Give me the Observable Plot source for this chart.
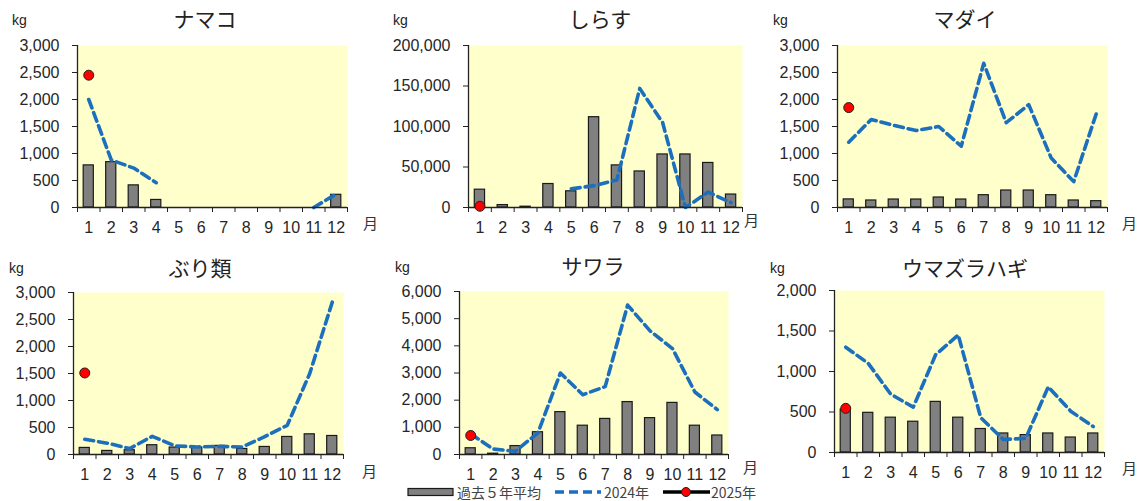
<!DOCTYPE html>
<html>
<head>
<meta charset="utf-8">
<script src="https://cdn.jsdelivr.net/npm/d3@7"></script>
<script src="https://cdn.jsdelivr.net/npm/@observablehq/plot@0.6"></script>
<style>
  html, body { margin: 0; padding: 0; background: #fff; }
  #root { position: relative; width: 1139px; height: 501px; overflow: hidden; font-family: "Liberation Sans", Arial, sans-serif; }
  .abs { position: absolute; white-space: nowrap; line-height: 1; }
  .title { font-family: "Noto Sans CJK JP", sans-serif; font-size: 21px; color: #222; transform: translate(-50%, -50%); }
  .unit { font-size: 14px; color: #222; transform: translateY(-50%); }
  .mon { font-family: "Noto Sans CJK JP", sans-serif; font-size: 15px; color: #333; transform: translateY(-50%); }
  .leg { font-family: "Noto Sans CJK JP", sans-serif; font-size: 14px; color: #444; transform: translateY(-50%); }
</style>
</head>
<body>
<div id="root"></div>
<script>
// ---- data ----
const months = [1, 2, 3, 4, 5, 6, 7, 8, 9, 10, 11, 12];
const titles = ["ナマコ", "しらす", "マダイ", "ぶり類", "サワラ", "ウマズラハギ"];
const legendLabels = ["過去５年平均", "2024年", "2025年"];

// 過去5年平均
const namakoAvg = [780, 840, 410, 140, 0, 0, 0, 0, 0, 0, 0, 235];
const shirasuAvg = [22000, 3000, 1000, 29000, 20000, 111500, 52000, 44500, 65500, 65500, 55000, 16000];
const madaiAvg = [150, 130, 148, 148, 185, 148, 228, 315, 315, 228, 130, 117];
const buriAvg = [122, 66, 79, 172, 129, 129, 159, 103, 140, 325, 374, 343];
const sawaraAvg = [230, 30, 310, 820, 1560, 1060, 1310, 1930, 1340, 1900, 1060, 700];
const umazuraAvg = [530, 490, 430, 380, 625, 430, 290, 235, 215, 235, 185, 235];

// 2024年
const namako2024 = [2000, 880, 730, 460, null, null, null, null, null, null, 0, 250];
const shirasu2024 = [null, null, null, null, 23000, 27000, 34000, 147000, 105000, 0, 19000, 6000];
const madai2024 = [1210, 1630, 1520, 1425, 1500, 1135, 2670, 1570, 1905, 915, 480, 1735];
const buri2024 = [282, 210, 110, 337, 159, 140, 150, 140, 330, 540, 1500, 2820];
const sawara2024 = [760, 200, 120, 800, 3000, 2200, 2500, 5500, 4550, 3900, 2300, 1650];
const umazura2024 = [1300, 1100, 720, 560, 1210, 1450, 430, 160, 175, 810, 510, 320];

// 2025年
const namako2025 = [2450];
const shirasu2025 = [1500];
const madai2025 = [1850];
const buri2025 = [1510];
const sawara2025 = [700];
const umazura2025 = [545];

// y-axis tick labels
const ticks3000 = [0, 500, 1000, 1500, 2000, 2500, 3000];
const ticks200k = [0, 50000, 100000, 150000, 200000];
const ticks6000 = [0, 1000, 2000, 3000, 4000, 5000, 6000];
const ticks2000 = [0, 500, 1000, 1500, 2000];

const seriesAvg = [namakoAvg, shirasuAvg, madaiAvg, buriAvg, sawaraAvg, umazuraAvg];
const series2024 = [namako2024, shirasu2024, madai2024, buri2024, sawara2024, umazura2024];
const series2025 = [namako2025, shirasu2025, madai2025, buri2025, sawara2025, umazura2025];
const yTicks = [ticks3000, ticks200k, ticks3000, ticks3000, ticks6000, ticks2000];

// ---- layout (plot frames in page pixels) ----
const frames = [
  {l: 77, t: 45, r: 347, b: 207},
  {l: 468, t: 45, r: 742, b: 207},
  {l: 837, t: 45, r: 1107, b: 207},
  {l: 73, t: 292, r: 343, b: 454},
  {l: 459, t: 291, r: 728, b: 454},
  {l: 834, t: 290, r: 1104, b: 452}
];
const titlePos = [[205, 18], [600, 18], [965, 18], [200, 267], [593, 265], [965, 267]];
const unitPos = [[12, 20], [393, 20], [773, 20], [9, 268], [395, 267], [770, 268]];
const monPos = [[363, 222], [744, 219], [1122, 222], [362, 470], [743, 466], [1122, 467]];

const BLUE = "#1b6fbd";
const root = document.getElementById("root");
const ML = 100, MR = 12, MT = 12, MB = 40;

function addText(cls, text, x, y) {
  const d = document.createElement("div");
  d.className = "abs " + cls;
  d.textContent = text;
  d.style.left = x + "px";
  d.style.top = y + "px";
  root.appendChild(d);
  return d;
}

for (let i = 0; i < 6; i++) {
  const f = frames[i];
  const tks = yTicks[i];
  const yMax = tks[tks.length - 1];
  const data = months.map((m, j) => ({
    m,
    avg: seriesAvg[i][j],
    y24: series2024[i][j],
    y25: series2025[i][j] ?? null
  }));
  const chart = Plot.plot({
    width: (f.r - f.l) + ML + MR,
    height: (f.b - f.t) + MT + MB,
    marginLeft: ML, marginRight: MR, marginTop: MT, marginBottom: MB,
    style: {fontFamily: "'Liberation Sans', Arial, sans-serif", fontSize: "16px", color: "#262626", background: "transparent", overflow: "visible"},
    x: {domain: [0.5, 12.5], axis: null, label: null},
    y: {domain: [0, yMax], axis: null, label: null},
    marks: [
      Plot.frame({fill: "#ffffcc", stroke: null}),
      Plot.rectY(data, {x1: d => d.m - 0.225, x2: d => d.m + 0.225, y: "avg", fill: "#808080", stroke: "#1a1a1a", strokeWidth: 1.2}),
      Plot.line(data, {x: "m", y: "y24", stroke: BLUE, strokeWidth: 3.6, strokeDasharray: "9,5"}),
      Plot.ruleY([0], {stroke: "#222", strokeWidth: 1.3}),
      Plot.ruleX([0.5], {stroke: "#222", strokeWidth: 1.3}),
      Plot.axisY({ticks: tks, tickFormat: d3.format(","), tickSize: 5, tickPadding: 13, fontSize: 16, label: null, stroke: "#222"}),
      Plot.axisX({ticks: d3.range(0.5, 13, 1), tickFormat: () => "", tickSize: 5, label: null, stroke: "#222"}),
      Plot.axisX({ticks: months, tickSize: 0, tickPadding: 14, fontSize: 16, label: null}),
      Plot.dot(data.filter(d => d.y25 != null), {x: "m", y: "y25", r: 5, fill: "#ff0000", stroke: "#222", strokeWidth: 1})
    ]
  });
  chart.style.position = "absolute";
  chart.style.left = (f.l - ML) + "px";
  chart.style.top = (f.t - MT) + "px";
  root.appendChild(chart);

  addText("title", titles[i], titlePos[i][0], titlePos[i][1]);
  addText("unit", "kg", unitPos[i][0], unitPos[i][1]);
  addText("mon", "月", monPos[i][0], monPos[i][1]);
}

// ---- legend ----
const LY = 492;
const leg = document.createElementNS("http://www.w3.org/2000/svg", "svg");
leg.setAttribute("width", 1139);
leg.setAttribute("height", 501);
leg.style.position = "absolute";
leg.style.left = "0px";
leg.style.top = "0px";
leg.style.pointerEvents = "none";
leg.innerHTML = `
  <rect x="408" y="${LY - 3.5}" width="45" height="7" fill="#808080" stroke="#1a1a1a" stroke-width="1.2"/>
  <line x1="555" x2="601" y1="${LY}" y2="${LY}" stroke="${BLUE}" stroke-width="3.6" stroke-dasharray="9,5"/>
  <line x1="663" x2="710" y1="${LY}" y2="${LY}" stroke="#000" stroke-width="3.5"/>
  <circle cx="686" cy="${LY}" r="4.5" fill="#ff0000" stroke="#222" stroke-width="1"/>
`;
root.appendChild(leg);
addText("leg", legendLabels[0], 457, LY);
addText("leg", legendLabels[1], 604, LY);
addText("leg", legendLabels[2], 711, LY);
</script>
</body>
</html>
